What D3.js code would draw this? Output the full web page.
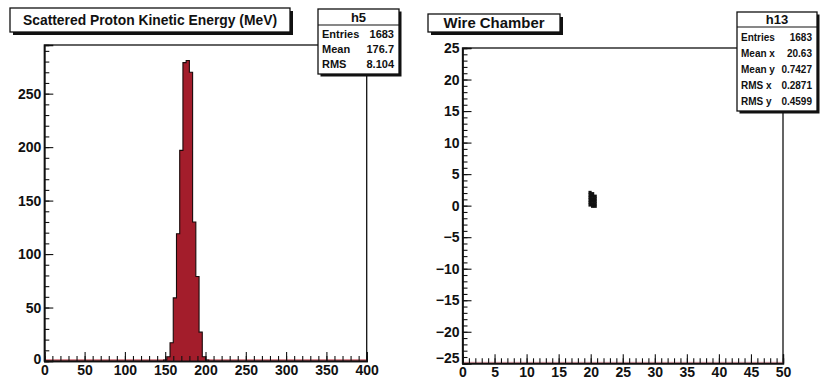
<!DOCTYPE html>
<html>
<head>
<meta charset="utf-8">
<script src="https://cdn.jsdelivr.net/npm/d3@7"></script>
<style>
  body { margin: 0; background: #fff; }
  svg { display: block; font-family: "Liberation Sans", Arial, sans-serif; font-weight: bold; }
</style>
</head>
<body>
<svg id="chart" width="820" height="383"></svg>
<script>
// histogram h5: low edge of each 4 MeV bin and its count
const binLow = [148, 152, 156, 160, 164, 168, 172, 176, 180, 184, 188, 192, 196, 200];
const binCounts = [1, 4, 17, 59, 119, 197, 279, 281, 270, 130, 79, 27, 4, 1];
const binWidth = 4;

// wire chamber cells (x, y centre of each filled cell)
const cellX = [19.9, 19.9, 19.9, 19.9, 19.9, 19.9, 20.3, 20.3, 20.3, 20.3, 20.3, 20.3, 20.7, 20.7, 20.7, 20.7, 20.7];
const cellY = [0.1, 0.5, 0.9, 1.3, 1.7, 2.1, -0.1, 0.3, 0.7, 1.1, 1.5, 1.9, -0.1, 0.3, 0.7, 1.1, 1.5];
const cellSize = 0.5;

// tick values
const leftXTicks = [0, 50, 100, 150, 200, 250, 300, 350, 400];
const leftYTicks = [0, 50, 100, 150, 200, 250];
const rightXTicks = [0, 5, 10, 15, 20, 25, 30, 35, 40, 45, 50];
const rightYTicks = [-25, -20, -15, -10, -5, 0, 5, 10, 15, 20, 25];

// stat boxes
const statsLeft = [["Entries", "1683"], ["Mean", "176.7"], ["RMS", "8.104"]];
const statsRight = [["Entries", "1683"], ["Mean x", "20.63"], ["Mean y", "0.7427"], ["RMS x", "0.2871"], ["RMS y", "0.4599"]];

const svg = d3.select("#chart");

// scales
const xL = d3.scaleLinear().domain([0, 400]).range([44.3, 366.7]);
const yL = d3.scaleLinear().domain([0, 295.5]).range([361, 45]);
const xR = d3.scaleLinear().domain([0, 50]).range([462.5, 783]);
const yR = d3.scaleLinear().domain([-25, 25]).range([363.3, 48]);

function frame(x, y) {
  const [x0, x1] = x.range();
  const [y0, y1] = y.range();
  svg.append("rect")
    .attr("x", x0).attr("y", y1)
    .attr("width", x1 - x0).attr("height", y0 - y1)
    .attr("fill", "none").attr("stroke", "#111").attr("stroke-width", 1.3);
}

function axes(x, y, xMajor, yMajor, xMinorStep, yMinorStep) {
  const [x0, x1] = x.range();
  const [y0, y1] = y.range();
  const xd = x.domain(), yd = y.domain();
  const xMinor = d3.range(xd[0], xd[1] + 1e-9, xMinorStep);
  const yMinor = d3.range(yd[0], yd[1] + 1e-9, yMinorStep);

  // minor ticks
  const gxm = svg.append("g").attr("transform", `translate(0,${y0})`)
    .call(d3.axisBottom(x).tickValues(xMinor).tickSize(-5).tickFormat(""));
  const gym = svg.append("g").attr("transform", `translate(${x0},0)`)
    .call(d3.axisLeft(y).tickValues(yMinor).tickSize(-5).tickFormat(""));
  // major ticks with labels
  const gx = svg.append("g").attr("transform", `translate(0,${y0})`)
    .call(d3.axisBottom(x).tickValues(xMajor).tickSize(-9).tickPadding(4).tickFormat(d3.format("d")));
  const gy = svg.append("g").attr("transform", `translate(${x0},0)`)
    .call(d3.axisLeft(y).tickValues(yMajor).tickSize(-9).tickPadding(3).tickFormat(d3.format("d")));

  [gxm, gym, gx, gy].forEach(g => {
    g.selectAll("path.domain").attr("stroke", "#111").attr("stroke-width", 1.3);
    g.selectAll(".tick line").attr("stroke", "#111").attr("stroke-width", 1.1);
  });
  [gx, gy].forEach(g => g.selectAll("text").attr("font-size", 14).attr("fill", "#111")
    .attr("font-family", "Liberation Sans, Arial, sans-serif").attr("font-weight", "bold"));
  return { gx, gy };
}

function titleBox(x, y, w, h, text, size, len) {
  svg.append("rect").attr("x", x + 3).attr("y", y + 3).attr("width", w).attr("height", h).attr("fill", "#111");
  svg.append("rect").attr("x", x).attr("y", y).attr("width", w).attr("height", h)
    .attr("fill", "#fff").attr("stroke", "#111").attr("stroke-width", 1.3);
  svg.append("text").attr("x", x + w / 2).attr("y", y + h / 2).attr("dy", "0.36em")
    .attr("text-anchor", "middle").attr("font-size", size).attr("fill", "#111")
    .attr("textLength", len).attr("lengthAdjust", "spacingAndGlyphs")
    .text(text);
}

function statsBox(x, y, w, headH, rowH, name, rows, nameSize, rowSize) {
  const h = headH + rowH * rows.length + 4;
  svg.append("rect").attr("x", x + 2.5).attr("y", y + 2.5).attr("width", w).attr("height", h).attr("fill", "#111");
  svg.append("rect").attr("x", x).attr("y", y).attr("width", w).attr("height", h)
    .attr("fill", "#fff").attr("stroke", "#111").attr("stroke-width", 1.3);
  svg.append("line").attr("x1", x).attr("x2", x + w).attr("y1", y + headH).attr("y2", y + headH)
    .attr("stroke", "#111").attr("stroke-width", 1.2);
  svg.append("text").attr("x", x + w / 2).attr("y", y + headH / 2).attr("dy", "0.36em")
    .attr("text-anchor", "middle").attr("font-size", nameSize).attr("fill", "#111").text(name);
  const g = svg.append("g").attr("font-size", rowSize).attr("fill", "#111");
  rows.forEach((r, i) => {
    const cy = y + headH + 2 + rowH * (i + 0.5);
    g.append("text").attr("x", x + 4).attr("y", cy).attr("dy", "0.36em").text(r[0]);
    g.append("text").attr("x", x + w - 5).attr("y", cy).attr("dy", "0.36em")
      .attr("text-anchor", "end").text(r[1]);
  });
}

// ---- left: histogram ----
frame(xL, yL);

// red zero line of the histogram
svg.append("line")
  .attr("x1", xL(0)).attr("x2", xL(400)).attr("y1", yL(0) - 1).attr("y2", yL(0) - 1)
  .attr("stroke", "#b0202c").attr("stroke-width", 1.2);

const histPts = [[binLow[0], 0]];
binLow.forEach((lo, i) => {
  histPts.push([lo, binCounts[i]]);
  histPts.push([lo + binWidth, binCounts[i]]);
});
histPts.push([binLow[binLow.length - 1] + binWidth, 0]);

svg.append("path")
  .datum(histPts)
  .attr("d", d3.area().x(d => xL(d[0])).y0(yL(0)).y1(d => yL(d[1])))
  .attr("fill", "#a31d2b");
svg.append("path")
  .datum(histPts)
  .attr("d", d3.line().x(d => xL(d[0])).y(d => yL(d[1])))
  .attr("fill", "none")
  .attr("stroke", "#1a0a0a")
  .attr("stroke-width", 1.1);

const la = axes(xL, yL, leftXTicks, leftYTicks, 10, 10);
la.gy.selectAll(".tick text").filter(d => d === 0).attr("dy", "0.2em");

// ---- right: wire chamber ----
frame(xR, yR);
svg.append("line")
  .attr("x1", xR(0)).attr("x2", xR(50)).attr("y1", yR(-25) - 1).attr("y2", yR(-25) - 1)
  .attr("stroke", "#c04050").attr("stroke-width", 0.8).attr("opacity", 0.6);

const cells = cellX.map((cx, i) => ({ x: cx, y: cellY[i] }));
svg.append("g").selectAll("rect")
  .data(cells)
  .enter()
  .append("rect")
  .attr("x", d => xR(d.x - cellSize / 2))
  .attr("y", d => yR(d.y + cellSize / 2))
  .attr("width", d => xR(d.x + cellSize / 2) - xR(d.x - cellSize / 2))
  .attr("height", d => yR(d.y - cellSize / 2) - yR(d.y + cellSize / 2))
  .attr("fill", "#111");

const ra = axes(xR, yR, rightXTicks, rightYTicks, 1, 1);
ra.gy.selectAll(".tick text").filter(d => d === -25).attr("dy", "-0.05em");

// ---- titles and stat boxes ----
titleBox(10, 8, 280, 24, "Scattered Proton Kinetic Energy (MeV)", 14, 254);
titleBox(428, 14, 132, 18, "Wire Chamber", 15, 101);

statsBox(318, 9, 81, 16, 15, "h5", statsLeft, 13, 11);
statsBox(737, 12, 80, 15, 16, "h13", statsRight, 13, 10);
</script>
</body>
</html>
